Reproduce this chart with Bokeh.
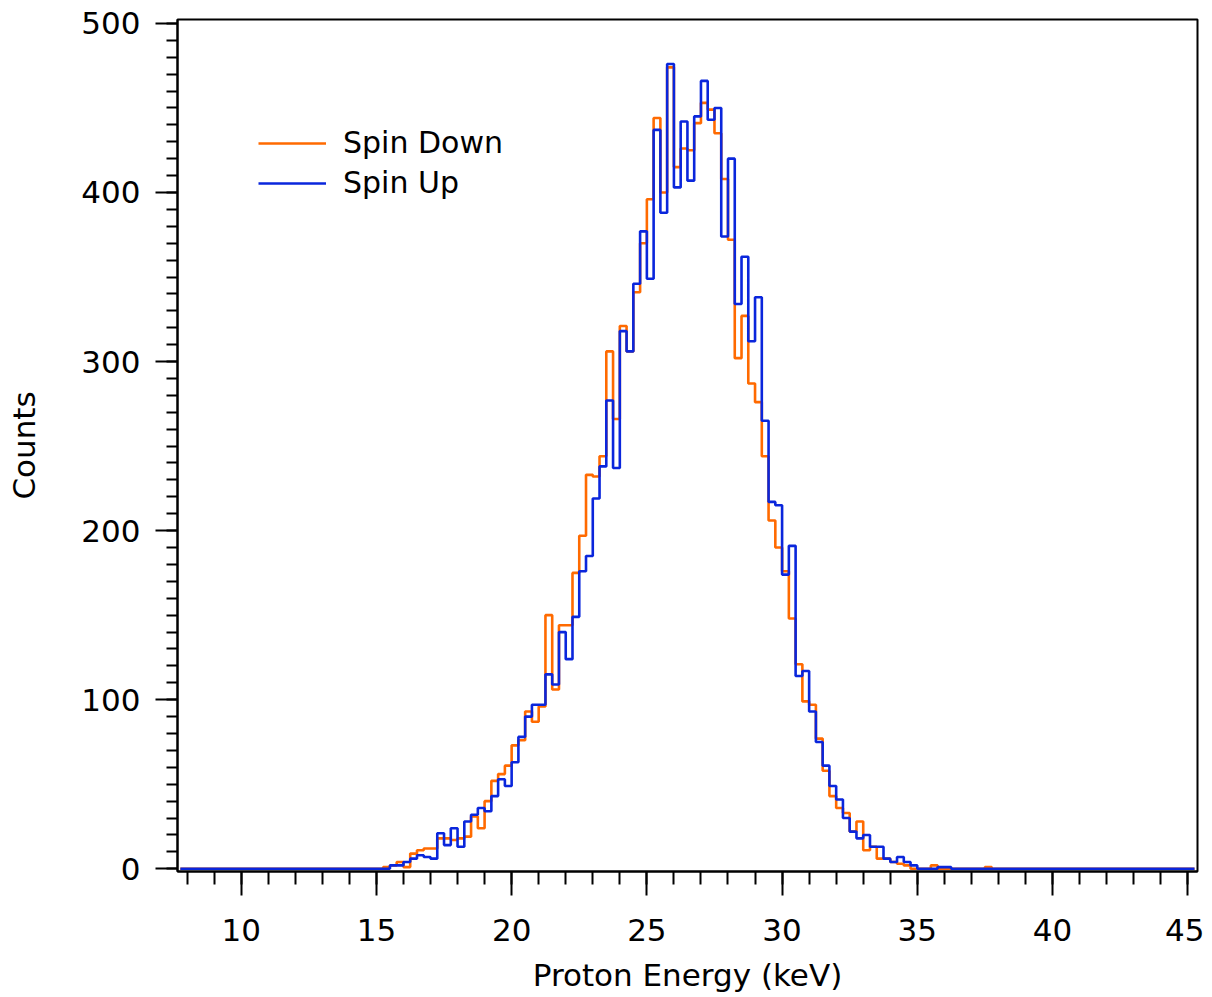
from bokeh.plotting import figure
from bokeh.models import Range1d, FixedTicker, Legend, LegendItem
from bokeh.embed import file_html
from bokeh.resources import INLINE

# Histogram: bins of 0.25 keV, first listed bin starts at 15.0 keV
range_start = 7.75
range_end = 45.25
bin_width = 0.25
first_bin = 15.0

spin_down = [0, 1, 2, 4, 1, 9, 11, 12, 12, 18,
             18, 17, 18, 19, 31, 24, 40, 52, 56, 61,
             73, 76, 93, 87, 96, 150, 106, 144, 144, 175,
             197, 233, 232, 244, 306, 266, 321, 306, 341, 370,
             396, 444, 400, 474, 415, 426, 425, 441, 453, 449,
             435, 408, 372, 302, 327, 287, 276, 244, 206, 190,
             176, 148, 121, 99, 97, 77, 58, 43, 36, 33,
             22, 28, 11, 13, 6, 6, 4, 3, 2, 0,
             0, 0, 2, 0, 0, 0, 0, 0, 0, 0,
             1]
spin_up = [0, 0, 2, 2, 4, 6, 8, 7, 6, 21,
           14, 24, 13, 28, 32, 36, 34, 43, 53, 49,
           63, 78, 90, 97, 97, 115, 109, 140, 124, 149,
           176, 185, 219, 238, 277, 237, 318, 306, 346, 377,
           349, 437, 388, 476, 403, 442, 407, 445, 466, 443,
           450, 374, 420, 334, 362, 312, 338, 265, 217, 215,
           174, 191, 114, 117, 93, 75, 61, 49, 41, 30,
           22, 18, 20, 13, 13, 6, 4, 7, 4, 2,
           0, 0, 0, 1, 1, 0, 0, 0, 0, 0,
           0]

x_ticks = [10, 15, 20, 25, 30, 35, 40, 45]
y_ticks = [0, 100, 200, 300, 400, 500]


def full_hist(counts):
    n_total = int(round((range_end - range_start) / bin_width))
    n_before = int(round((first_bin - range_start) / bin_width))
    vals = [0] * n_before + list(counts)
    vals = vals + [0] * (n_total - len(vals))
    edges = [range_start + i * bin_width for i in range(n_total + 1)]
    return edges, vals + [vals[-1]]


p = figure(width=1204, height=995,
           x_range=Range1d(7.645, 45.36), y_range=Range1d(-1.6, 502.3),
           output_backend="svg", toolbar_location=None,
           min_border_left=177, min_border_top=19,
           min_border_right=7, min_border_bottom=100)

p.xgrid.visible = False
p.ygrid.visible = False
p.outline_line_color = "black"
p.outline_line_width = 2
p.outline_line_alpha = 1.0

orange = "#FF6A00"
blue = "#0A26DC"

xd, yd = full_hist(spin_down)
xu, yu = full_hist(spin_up)
r_down = p.step(xd, yd, mode="after", line_color=orange, line_width=2.6)
r_up = p.step(xu, yu, mode="after", line_color=blue, line_width=2.6)

font = "DejaVu Sans"
for ax in (p.xaxis[0], p.yaxis[0]):
    ax.axis_line_width = 2
    ax.major_tick_line_width = 2
    ax.minor_tick_line_width = 2
    ax.major_label_text_font = font
    ax.major_label_text_font_size = "31px"
    ax.major_label_text_color = "black"
    ax.axis_label_text_font = font
    ax.axis_label_text_font_size = "31px"
    ax.axis_label_text_font_style = "normal"
    ax.axis_label_text_color = "black"
    ax.major_tick_in = 0
    ax.minor_tick_in = 0

p.xaxis[0].ticker = FixedTicker(ticks=x_ticks,
                                minor_ticks=[v for v in range(8, 46)])
p.xaxis[0].major_tick_out = 24
p.xaxis[0].minor_tick_out = 13
p.xaxis[0].major_label_standoff = 23
p.xaxis[0].axis_label = "Proton Energy (keV)"
p.xaxis[0].axis_label_standoff = 13

p.yaxis[0].ticker = FixedTicker(ticks=y_ticks,
                                minor_ticks=[v for v in range(0, 501, 10)])
p.yaxis[0].major_tick_out = 22
p.yaxis[0].minor_tick_out = 11
p.yaxis[0].major_label_standoff = 15
p.yaxis[0].axis_label = "Counts"
p.yaxis[0].axis_label_standoff = 36

legend = Legend(items=[LegendItem(label="Spin Down", renderers=[r_down]),
                       LegendItem(label="Spin Up", renderers=[r_up])],
                location=(81, 671))
legend.label_text_font = font
legend.label_text_font_size = "30px"
legend.label_text_color = "black"
legend.glyph_width = 68
legend.glyph_height = 30
legend.label_height = 30
legend.label_standoff = 17
legend.spacing = 5
legend.padding = 0
legend.margin = 0
legend.border_line_color = None
legend.background_fill_alpha = 0
p.add_layout(legend)

open("out.html", "w").write(file_html(p, INLINE))
